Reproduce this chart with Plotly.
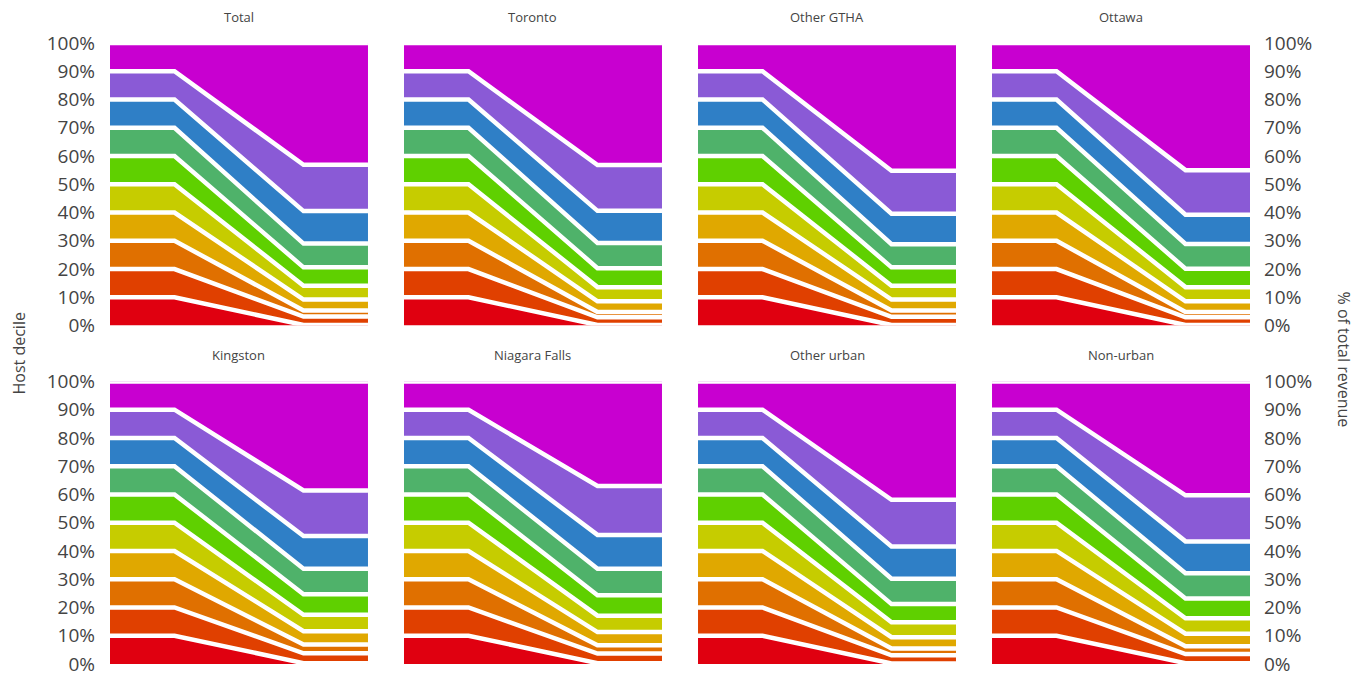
import plotly.graph_objects as go
from plotly.subplots import make_subplots

regions = ["Total", "Toronto", "Other GTHA", "Ottawa",
           "Kingston", "Niagara Falls", "Other urban", "Non-urban"]
deciles = ["D1", "D2", "D3", "D4", "D5", "D6", "D7", "D8", "D9", "D10"]
x_points = [0, 1, 3, 4]
host_share = [10, 10, 10, 10, 10, 10, 10, 10, 10, 10]

rev_total = [0.2, 3.0, 2.1, 3.9, 4.9, 6.5, 8.4, 11.5, 16.4, 43.1]
rev_toronto = [0.2, 2.7, 1.9, 3.8, 5.0, 6.7, 8.9, 11.4, 16.2, 43.2]
rev_other_gtha = [0.2, 2.9, 2.2, 3.9, 4.9, 6.5, 8.2, 10.8, 15.2, 45.2]
rev_ottawa = [0.2, 2.7, 1.9, 3.8, 5.0, 6.5, 8.8, 10.3, 15.8, 45.0]
rev_kingston = [0.3, 3.5, 3.1, 4.7, 5.8, 7.3, 9.0, 11.6, 16.1, 38.6]
rev_niagara = [0.3, 3.4, 2.9, 4.7, 5.8, 7.2, 9.4, 12.0, 17.3, 37.0]
rev_other_urban = [0.2, 2.9, 2.4, 4.0, 5.3, 6.4, 9.0, 11.4, 16.5, 41.9]
rev_non_urban = [0.3, 3.2, 2.8, 4.4, 5.5, 7.0, 8.9, 11.3, 16.3, 40.3]

revenues = [rev_total, rev_toronto, rev_other_gtha, rev_ottawa,
            rev_kingston, rev_niagara, rev_other_urban, rev_non_urban]

colors = ["#e00010", "#e04000", "#e07000", "#e0a800", "#c6cc00",
          "#5fd000", "#4fb26a", "#2f7fc6", "#8a5ad6", "#c800d0"]

FONT = "Open Sans"
TXT = "#444444"

fig = make_subplots(rows=2, cols=4, horizontal_spacing=0.0316,
                    vertical_spacing=0.09)

for i, rev in enumerate(revenues):
    r = i // 4 + 1
    c = i % 4 + 1
    for d in range(10):
        ys = [host_share[d], host_share[d], rev[d], rev[d]]
        fig.add_trace(go.Scatter(
            x=x_points, y=ys, mode="lines", stackgroup=f"s{i}",
            line=dict(color="white", width=4.5), fillcolor=colors[d],
            name=deciles[d], showlegend=False, hoverinfo="skip"),
            row=r, col=c)

for i in range(8):
    r = i // 4 + 1
    c = i % 4 + 1
    fig.update_xaxes(range=[0, 4], showgrid=False, zeroline=False,
                     showticklabels=False, showline=False, automargin=False,
                     row=r, col=c)
    side = "left" if c == 1 else "right"
    fig.update_yaxes(range=[0, 100], showgrid=False, zeroline=False,
                     showline=False, tickvals=list(range(0, 101, 10)),
                     ticktext=[f"{v}%" for v in range(0, 101, 10)],
                     showticklabels=(c in (1, 4)), side=side,
                     tickfont=dict(family=FONT, size=19, color=TXT),
                     ticks="", ticklabelstandoff=(14 if c == 1 else 13),
                     automargin=False, row=r, col=c)

for i, name in enumerate(regions):
    xref = "x domain" if i == 0 else f"x{i+1} domain"
    yref = "y domain" if i == 0 else f"y{i+1} domain"
    fig.add_annotation(text=name, x=0.5, y=1.0, xref=xref, yref=yref,
                       yanchor="bottom", showarrow=False, yshift=15,
                       font=dict(family=FONT, size=13, color=TXT))

fig.add_annotation(text="Host decile", x=0, y=0.5, xref="paper", yref="paper",
                   xanchor="center", yanchor="middle",
                   xshift=-92, textangle=-90, showarrow=False,
                   font=dict(family=FONT, size=16, color=TXT))
fig.add_annotation(text="% of total revenue", x=1, y=0.5, xref="paper",
                   yref="paper", xanchor="center", yanchor="middle",
                   xshift=94, yshift=-6, textangle=90, showarrow=False,
                   font=dict(family=FONT, size=16, color=TXT))

# the page body adds an 8px offset, so the margins compensate for it
fig.update_layout(width=1362, height=677, plot_bgcolor="white",
                  paper_bgcolor="white",
                  margin=dict(l=102, r=120, t=35, b=21))

fig.write_html("out.html")
